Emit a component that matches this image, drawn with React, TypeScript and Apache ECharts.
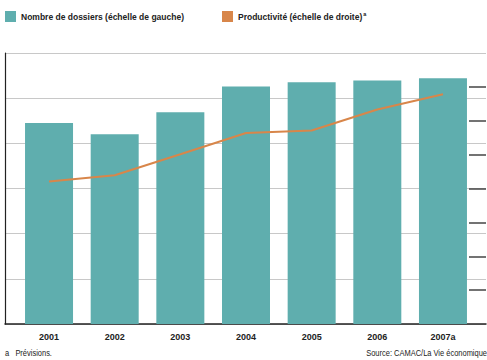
import React, { useEffect, useRef } from "react";
import * as echarts from "echarts";

const years = ["2001", "2002", "2003", "2004", "2005", "2006", "2007a"];
const dossiers = [4.45, 4.2, 4.69, 5.26, 5.35, 5.39, 5.44];
const productivite = [4.21, 4.39, 5.01, 5.64, 5.71, 6.33, 6.78];
const rightTicks = [1, 2, 3, 4, 5, 6, 7];

const nameBars = "Nombre de dossiers (échelle de gauche)";
const nameLine = "Productivité (échelle de droite)";

const FONT = "'Liberation Sans Narrow', 'Liberation Sans', Arial, sans-serif";
const TEAL = "#5faeae";
const ORANGE = "#d8864a";

export default function App() {
  const ref = useRef<HTMLDivElement>(null);
  useEffect(() => {
    if (!ref.current) return;
    const chart = echarts.init(ref.current, undefined, { renderer: "svg" });
    chart.setOption({
      animation: false,
      textStyle: { fontFamily: FONT },
      legend: [
        {
          left: 5,
          top: 11,
          padding: 0,
          icon: "rect",
          itemWidth: 11,
          itemHeight: 11,
          data: [nameBars],
          textStyle: { fontFamily: FONT, fontSize: 8.5, fontWeight: "bold", color: "#222" },
        },
        {
          left: 222,
          top: 11,
          padding: 0,
          icon: "rect",
          itemWidth: 11,
          itemHeight: 11,
          data: [nameLine],
          formatter: (n: string) => `{n|${n}}{s|a}`,
          textStyle: {
            fontFamily: FONT,
            fontSize: 8.5,
            fontWeight: "bold",
            color: "#222",
            rich: {
              n: { fontFamily: FONT, fontSize: 8.5, fontWeight: "bold", color: "#222" },
              s: { fontFamily: FONT, fontSize: 5.5, fontWeight: "bold", color: "#222", verticalAlign: "top", padding: [0, 0, 5, 1] },
            },
          },
        },
      ],
      grid: [
        { left: 5, right: 1, top: 53, bottom: 36 },
        { left: 16.2, right: 11.2, top: 53, bottom: 36 },
      ],
      xAxis: [
        {
          gridIndex: 0,
          type: "value",
          min: 0,
          max: 1,
          axisLine: { show: true, onZero: false, lineStyle: { color: "#222", width: 1.5 } },
          axisTick: { show: false },
          axisLabel: { show: false },
          splitLine: { show: false },
        },
        {
          gridIndex: 1,
          type: "category",
          data: years,
          axisLine: { show: false },
          axisTick: { show: false },
          axisLabel: { fontFamily: FONT, fontSize: 9, fontWeight: "bold", color: "#222", margin: 8 },
        },
      ],
      yAxis: [
        {
          gridIndex: 0,
          type: "value",
          min: 0,
          max: 6,
          interval: 1,
          axisLine: { show: true, lineStyle: { color: "#222", width: 1.2 } },
          axisTick: { show: false },
          axisLabel: { show: false },
          splitLine: { show: true, lineStyle: { color: "#c8c8c8", width: 1.2 } },
        },
        {
          gridIndex: 0,
          type: "value",
          position: "right",
          min: 0,
          max: 8,
          interval: 1,
          axisLine: { show: false },
          axisTick: {
            show: true,
            inside: true,
            length: 17,
            customValues: rightTicks,
            lineStyle: { color: "#444", width: 1.5 },
          },
          axisLabel: { show: false },
          splitLine: { show: false },
        },
        { gridIndex: 1, type: "value", min: 0, max: 6, show: false, splitLine: { show: false } },
        { gridIndex: 1, type: "value", min: 0, max: 8, show: false, splitLine: { show: false } },
      ],
      series: [
        {
          name: nameBars,
          type: "bar",
          xAxisIndex: 1,
          yAxisIndex: 2,
          data: dossiers,
          barWidth: 48,
          itemStyle: { color: TEAL },
        },
        {
          name: nameLine,
          type: "line",
          xAxisIndex: 1,
          yAxisIndex: 3,
          data: productivite,
          symbol: "none",
          lineStyle: { color: ORANGE, width: 2 },
          itemStyle: { color: ORANGE },
        },
      ],
      graphic: [
        {
          type: "text",
          x: 5,
          y: 349,
          scaleX: 0.88,
          style: { text: "a   Prévisions.", fontFamily: FONT, fontSize: 8.5, fill: "#222" },
        },
        {
          type: "text",
          x: 487,
          y: 349,
          scaleX: 0.88,
          style: { text: "Source: CAMAC/La Vie économique", textAlign: "right", fontFamily: FONT, fontSize: 8.5, fill: "#222" },
        },
      ],
    });
    return () => chart.dispose();
  }, []);
  return <div ref={ref} style={{ width: 487, height: 360, position: "absolute", left: 0, top: 0 }} />;
}
